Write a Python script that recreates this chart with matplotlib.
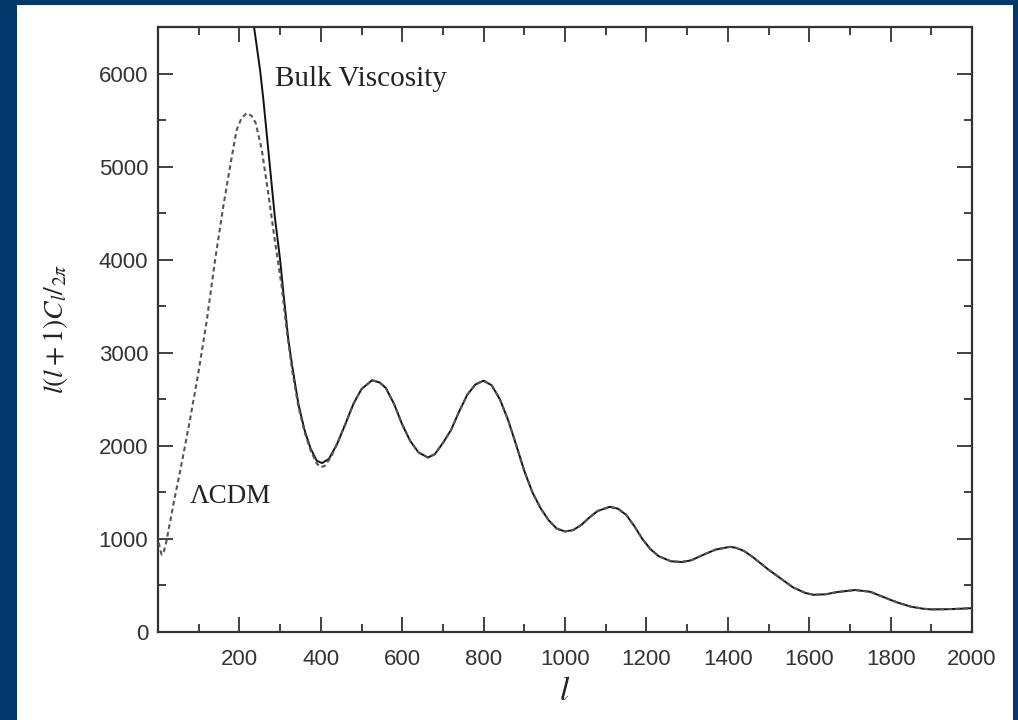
import numpy as np
import matplotlib.pyplot as plt
from matplotlib.patches import Rectangle

plt.rcParams['mathtext.fontset'] = 'stix'

# LCDM spectrum
lcdm_l = [2, 5, 9, 14, 20, 27, 40, 54, 66, 79, 99, 120, 140, 160, 177, 193, 205, 218,
          230, 240, 255, 271, 287, 304, 316, 330, 345, 360, 375, 390, 400, 410, 425,
          440, 460, 480, 500, 526, 545, 560, 580, 600, 620, 640, 663, 680, 700, 720,
          740, 760, 780, 800, 820, 840, 860, 880, 900, 920, 940, 960, 980, 1000, 1020,
          1040, 1060, 1080, 1110, 1130, 1150, 1170, 1190, 1210, 1230, 1260, 1287, 1310,
          1340, 1370, 1405, 1420, 1440, 1460, 1480, 1500, 1530, 1560, 1590, 1610, 1640,
          1670, 1713, 1750, 1780, 1800, 1820, 1850, 1880, 1900, 1940, 1970, 2000]
lcdm_cl = [960, 890, 830, 860, 960, 1120, 1420, 1720, 1990, 2290, 2780, 3350, 3990, 4560,
           5000, 5390, 5520, 5575, 5545, 5470, 5180, 4710, 4210, 3710, 3250, 2800, 2420,
           2150, 1950, 1810, 1770, 1785, 1880, 2020, 2230, 2450, 2610, 2705, 2680, 2620,
           2450, 2230, 2050, 1930, 1875, 1910, 2030, 2170, 2370, 2550, 2660, 2700, 2650,
           2500, 2280, 2010, 1730, 1500, 1330, 1200, 1110, 1080, 1095, 1150, 1230, 1300,
           1345, 1325, 1260, 1140, 1000, 890, 815, 760, 752, 770, 830, 885, 915, 905, 870,
           810, 740, 670, 575, 480, 420, 400, 405, 430, 451, 432, 380, 345, 312, 272, 250,
           243, 245, 250, 256]

# bulk viscosity: own values up to the first trough, then same as LCDM
bv_l_head = [222, 236, 251, 259, 275, 287, 300, 308, 320, 330, 345, 360, 375, 390, 403, 420]
bv_cl_head = [7000, 6500, 6030, 5715, 5000, 4463, 4000, 3650, 3150, 2850, 2450, 2170,
              1970, 1840, 1815, 1860]

tail = [(l, c) for l, c in zip(lcdm_l, lcdm_cl) if l >= 440]
bv_l = bv_l_head + [t[0] for t in tail]
bv_cl = bv_cl_head + [t[1] for t in tail]

W, H = 1018, 720
fig = plt.figure(figsize=(W / 100, H / 100), dpi=100, facecolor='#00386b')
fig.patches.append(Rectangle((17 / W, 0), (1013 - 17) / W, (H - 5) / H,
                             transform=fig.transFigure, facecolor='white',
                             edgecolor='none', zorder=-5))

ax = fig.add_axes([158 / W, (H - 632) / H, (972 - 158) / W, (632 - 27) / H])
ax.plot(bv_l, bv_cl, color='#111111', lw=1.4, zorder=2)
ax.plot(lcdm_l, lcdm_cl, color='#555555', lw=1.5, ls=(0, (2.2, 1.6)), zorder=3)

ax.set_xlim(0, 2000)
ax.set_ylim(0, 6500)
ax.set_xticks(range(200, 2001, 200))
ax.set_xticks(range(0, 2001, 100), minor=True)
ax.set_yticks(range(0, 6001, 1000))
ax.set_yticks(range(0, 6501, 500), minor=True)

for s in ax.spines.values():
    s.set_color('#333333')
    s.set_linewidth(1.6)
ax.tick_params(which='both', direction='in', top=True, right=True,
               color='#333333', width=1.3, labelcolor='#333333')
ax.tick_params(which='major', length=11)
ax.tick_params(which='minor', length=6)
ax.tick_params(axis='x', which='major', pad=12)
ax.tick_params(axis='y', which='major', pad=7)
for lab in ax.get_xticklabels() + ax.get_yticklabels():
    lab.set_family('Liberation Sans')
    lab.set_fontsize(16)

ax.text(287, 5944, 'Bulk Viscosity', family='Liberation Serif', fontsize=21,
        color='#222222', va='center', ha='left')
ax.text(79, 1384, '\u039bCDM', family='Liberation Serif', fontsize=19.5,
        color='#222222', va='baseline', ha='left')

fig.text(55 / W, 1 - 329 / H, r'$l(l+1)C_l/_{2\pi}$', rotation=90, fontsize=20,
         color='#222222', ha='center', va='center')
fig.text(565 / W, 1 - 690 / H, r'$l$', fontsize=24, color='#222222',
         ha='center', va='center')

fig.savefig('out.png', dpi=100, facecolor=fig.get_facecolor())
